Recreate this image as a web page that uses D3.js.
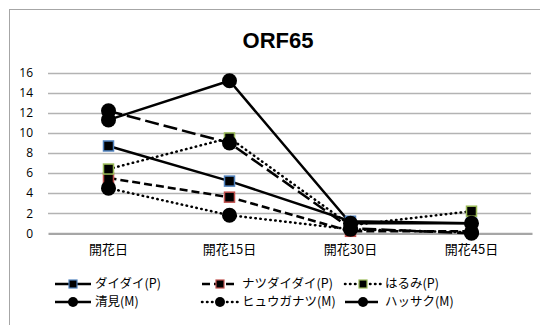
<!DOCTYPE html>
<html><head><meta charset="utf-8">
<script src="https://cdn.jsdelivr.net/npm/d3@7"></script>
<style>body{margin:0;background:#fff}svg{display:block}</style>
</head><body>
<script>
const title = "ORF65";
const categories = ["開花日", "開花15日", "開花30日", "開花45日"];
const yTicks = [0, 2, 4, 6, 8, 10, 12, 14, 16];
const seriesNames = ["ダイダイ(P)", "ナツダイダイ(P)", "はるみ(P)", "清見(M)", "ヒュウガナツ(M)", "ハッサク(M)"];
const daidai = [8.7, 5.2, 1.2, 1.0];
const natsudaidai = [5.5, 3.6, 0.2, 0.2];
const harumi = [6.4, 9.5, 0.8, 2.2];
const kiyomi = [11.3, 15.2, 1.0, 1.0];
const hyuganatsu = [4.5, 1.8, 0.4, 0.1];
const hassaku = [12.2, 9.0, 0.5, 0.0];

const values = [daidai, natsudaidai, harumi, kiyomi, hyuganatsu, hassaku];
const styles = [
  {marker:"square", border:"#4f81bd", dash:null},
  {marker:"square", border:"#c0504d", dash:"8,4"},
  {marker:"square", border:"#9bbb59", dash:"0.5,4.5"},
  {marker:"circle", dash:null},
  {marker:"circle", dash:"0.5,4.5"},
  {marker:"circle", dash:"14,5"}
];
const series = seriesNames.map((n,i)=>({name:n, values:values[i], ...styles[i]}));

const W = 540, H = 325;
const svg = d3.select("body").append("svg").attr("width", W).attr("height", H);
svg.append("rect").attr("x",9.5).attr("y",9.5).attr("width",560).attr("height",340)
  .attr("fill","#fff").attr("stroke","#a6a6a6").attr("stroke-width",1);

svg.append("text").attr("x",278).attr("y",47.5).attr("text-anchor","middle")
  .attr("font-family","Liberation Sans, Arial, sans-serif").attr("font-weight","bold")
  .attr("font-size",22).text(title);

const x = d3.scaleBand().domain(categories).range([48, 532]);
const y = d3.scaleLinear().domain([0,16]).range([233.3, 72.7]);

const grid = svg.append("g");
grid.selectAll("line").data(yTicks.filter(d=>d>0)).join("line")
  .attr("x1",48).attr("x2",531).attr("y1",d=>Math.round(y(d))+0.5).attr("y2",d=>Math.round(y(d))+0.5)
  .attr("stroke","#b3b3b3").attr("stroke-width",1.3);

const yAxis = svg.append("g").attr("transform","translate(48,0)")
  .call(d3.axisLeft(y).tickValues(yTicks).tickSize(0).tickPadding(15));
yAxis.select(".domain").remove();
yAxis.selectAll("text").attr("font-family","Open Sans, Liberation Sans, sans-serif").attr("font-size",12).attr("fill","#000");

const xAxis = svg.append("g").attr("transform",`translate(0,${y(0)})`)
  .call(d3.axisBottom(x).tickSize(0).tickPadding(11));
xAxis.select(".domain").attr("stroke","#a6a6a6").attr("stroke-width",2.2);
xAxis.selectAll("text").attr("font-family","Noto Sans CJK JP, sans-serif").attr("font-size",13).attr("fill","#000");

const line = d3.line().x((d,i)=>x(categories[i])+x.bandwidth()/2).y(d=>y(d));

function drawMarker(g, s, cx, cy, big) {
  if (s.marker === "square") {
    const sz = big ? 10 : 8;
    g.append("rect").attr("x",cx-sz/2).attr("y",cy-sz/2).attr("width",sz).attr("height",sz)
      .attr("fill","#000").attr("stroke",s.border).attr("stroke-width",big?1.5:1.2);
  } else {
    g.append("circle").attr("cx",cx).attr("cy",cy).attr("r",big?7.5:5).attr("fill","#000");
  }
}

const plot = svg.append("g");
series.forEach(s=>{
  plot.append("path").attr("d", line(s.values)).attr("fill","none").attr("stroke","#000")
    .attr("stroke-width",2.5).attr("stroke-dasharray", s.dash)
    .attr("stroke-linecap", s.dash && s.dash.startsWith("0.5") ? "round" : "butt");
});
series.forEach(s=>{
  const g = plot.append("g");
  s.values.forEach((v,i)=>drawMarker(g, s, x(categories[i])+x.bandwidth()/2, y(v), true));
});

// legend
const colX = [55, 202, 345];
const rowY = [284, 302];
series.forEach((s,i)=>{
  const cx = colX[i%3], cy = rowY[Math.floor(i/3)];
  const g = svg.append("g");
  g.append("line").attr("x1",cx).attr("x2",cx+36).attr("y1",cy).attr("y2",cy)
    .attr("stroke","#000").attr("stroke-width",2.5).attr("stroke-dasharray", s.dash)
    .attr("stroke-linecap", s.dash && s.dash.startsWith("0.5") ? "round" : "butt");
  drawMarker(g, s, cx+18, cy, false);
  g.append("text").attr("x",cx+40).attr("y",cy+4.3)
    .attr("font-family","Noto Sans CJK JP, sans-serif").attr("font-size",12.5).text(s.name);
});
</script>
</body></html>
